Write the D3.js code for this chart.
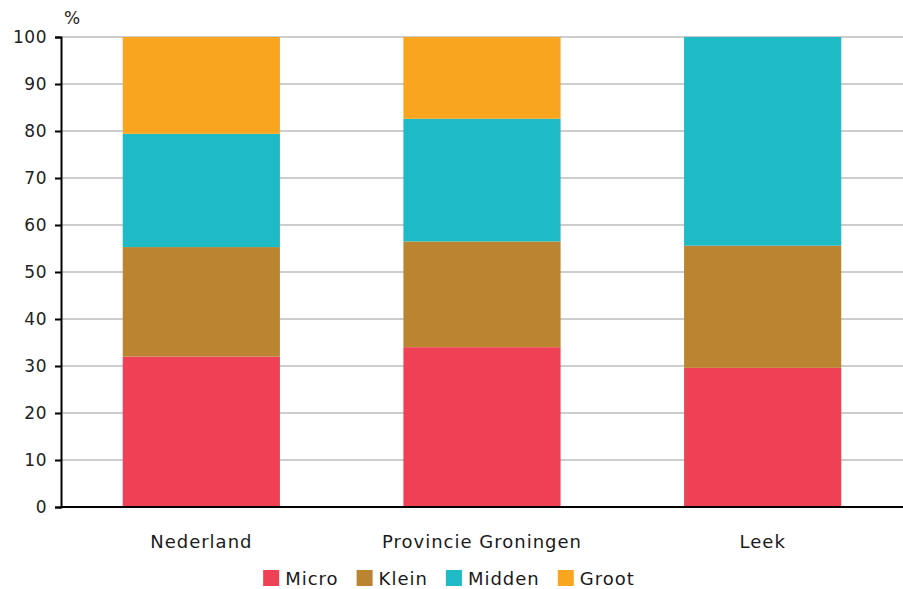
<!DOCTYPE html>
<html>
<head>
<meta charset="utf-8">
<script src="https://cdn.jsdelivr.net/npm/d3@7/dist/d3.min.js"></script>
<style>
  html, body { margin: 0; padding: 0; background: #fff; }
  svg { display: block; }
  text { font-family: "DejaVu Sans", Verdana, sans-serif; }
</style>
</head>
<body>
<svg id="chart" width="903" height="589"></svg>
<script>
const categories = ["Nederland", "Provincie Groningen", "Leek"];
const seriesNames = ["Micro", "Klein", "Midden", "Groot"];
const micro  = [32.0, 34.0, 29.6];
const klein  = [23.3, 22.5, 26.0];
const midden = [24.1, 26.1, 44.4];
const groot  = [20.6, 17.4, 0.0];
const yTicks = [0, 10, 20, 30, 40, 50, 60, 70, 80, 90, 100];
const colors = ["#EF4055", "#BA8430", "#1EBAC5", "#F9A51F"];

const rows = categories.map((c, i) => ({
  cat: c, Micro: micro[i], Klein: klein[i], Midden: midden[i], Groot: groot[i]
}));

const svg = d3.select("#chart");
const m = { left: 61, top: 37, right: 0, bottom: 82 };
const W = 903, H = 589;
const x = d3.scaleBand().domain(categories).range([m.left, W - m.right])
  .paddingInner(0.44).paddingOuter(0.22);
const y = d3.scaleLinear().domain([0, 100]).range([H - m.bottom, m.top]);

// gridlines
svg.append("g").selectAll("line").data(yTicks.filter(t => t > 0)).join("line")
  .attr("x1", m.left).attr("x2", W)
  .attr("y1", d => y(d)).attr("y2", d => y(d))
  .attr("stroke", "#bdbdbd").attr("stroke-width", 1.5);

// stacked bars
const stack = d3.stack().keys(seriesNames)(rows);
svg.append("g").selectAll("g").data(stack).join("g")
  .attr("fill", (d, i) => colors[i])
  .selectAll("rect").data(d => d).join("rect")
  .attr("x", d => x(d.data.cat))
  .attr("width", x.bandwidth())
  .attr("y", d => y(d[1]))
  .attr("height", d => y(d[0]) - y(d[1]));

// y axis
const yAxis = svg.append("g").attr("transform", `translate(${m.left},0)`)
  .call(d3.axisLeft(y).tickValues(yTicks).tickSize(6).tickPadding(8));
yAxis.select(".domain").attr("stroke", "#000").attr("stroke-width", 2);
yAxis.selectAll(".tick line").attr("stroke", "#000").attr("stroke-width", 2);
yAxis.selectAll(".tick text").attr("fill", "#222").style("font-size", "17px")
  .style("letter-spacing", "0.5px")
  .style("font-family", "DejaVu Sans, sans-serif");

// x axis
const xAxis = svg.append("g").attr("transform", `translate(0,${y(0)})`)
  .call(d3.axisBottom(x).tickSize(0).tickPadding(28));
xAxis.select(".domain").attr("stroke", "#000").attr("stroke-width", 2)
  .attr("d", `M${m.left},0H${W}`);
xAxis.selectAll(".tick text").attr("fill", "#1a1a1a").style("font-size", "18px")
  .style("letter-spacing", "1px")
  .style("font-family", "DejaVu Sans, sans-serif");

// % label
svg.append("text").attr("x", 72).attr("y", 24).attr("text-anchor", "middle")
  .attr("fill", "#222").style("font-size", "17px").text("%");

// legend
const lg = svg.append("g");
let cx = 0;
const items = [];
seriesNames.forEach((s, i) => {
  const g = lg.append("g");
  g.append("rect").attr("x", 0).attr("y", -14).attr("width", 16).attr("height", 16).attr("fill", colors[i]);
  const t = g.append("text").attr("x", 22).attr("y", 1).attr("fill", "#1a1a1a")
    .style("font-size", "18px").style("letter-spacing", "1px").text(s);
  items.push({ g, w: 22 + t.node().getComputedTextLength() });
});
const gap = 18;
const total = d3.sum(items, d => d.w) + gap * (items.length - 1);
cx = 449 - total / 2;
items.forEach(it => { it.g.attr("transform", `translate(${cx},584)`); cx += it.w + gap; });
</script>
</body>
</html>
